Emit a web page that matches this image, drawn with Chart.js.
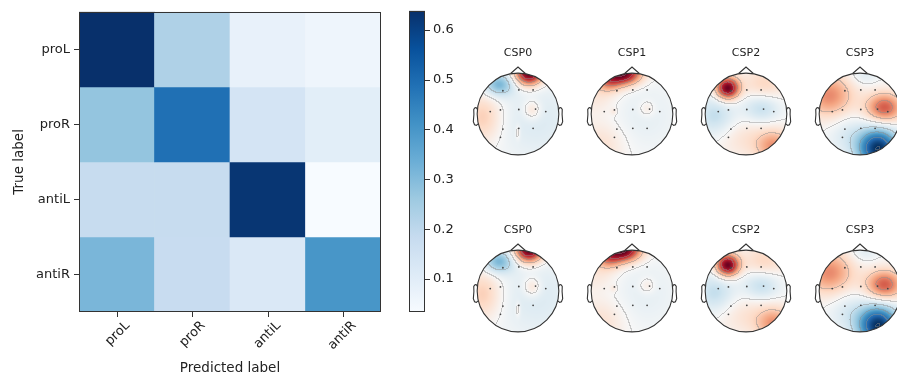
<!DOCTYPE html>
<html>
<head>
<meta charset="utf-8">
<script src="https://cdn.jsdelivr.net/npm/chart.js@4.4.1/dist/chart.umd.min.js"></script>
<style>
html, body { margin: 0; padding: 0; background: #fff; width: 897px; height: 380px; overflow: hidden; }
.box { position: absolute; }
</style>
</head>
<body>
<div class="box" style="left:0;top:0;width:400px;height:380px"><canvas id="cm"></canvas></div>
<div class="box" style="left:395px;top:0;width:70px;height:380px"><canvas id="cbar"></canvas></div>
<div id="topos"></div>
<script>
//////////////////////////////////////////////// data
const classes = ['proL', 'proR', 'antiL', 'antiR'];
const rowProL  = [0.638, 0.228, 0.079, 0.061];
const rowProR  = [0.275, 0.490, 0.141, 0.097];
const rowAntiL = [0.182, 0.182, 0.625, 0.034];
const rowAntiR = [0.314, 0.180, 0.122, 0.400];
const cmRows = [rowProL, rowProR, rowAntiL, rowAntiR];
const cbarTicks = [0.1, 0.2, 0.3, 0.4, 0.5, 0.6];

const topoTitles = ['CSP0', 'CSP1', 'CSP2', 'CSP3'];
// electrode positions (head radius = 1, y up)
const electrodeX = [-0.37, 0.02, 0.37, -0.68, -0.43, 0.02, 0.43, 0.68, -0.37, 0.02, 0.37, -0.43];
const electrodeY = [0.57, 0.59, 0.59, 0.06, 0.10, 0.11, 0.12, 0.06, -0.37, -0.35, -0.35, -0.57];
// pattern components: [x, y, amplitude, spread x, spread y]
const csp0Field = [
    [0.27, 1.0, 1.05, 0.24, 0.21],
    [-0.47, 0.72, -0.45, 0.26, 0.2],
    [-0.85, -0.08, 0.26, 0.32, 0.42],
    [0.35, 0.1, 0.22, 0.15, 0.17],
    [0.45, -0.15, -0.14, 0.7, 0.7],
    [0.0, -0.45, 0.14, 0.04, 0.12]
];
const csp1Field = [
    [-0.2, 1.0, 1.0, 0.3, 0.2],
    [-0.58, 0.8, 0.4, 0.22, 0.18],
    [-0.85, 0.45, 0.12, 0.35, 0.3],
    [-0.75, -0.75, 0.16, 0.4, 0.4],
    [0.3, -0.05, -0.09, 0.6, 0.6],
    [0.37, 0.13, 0.14, 0.14, 0.14],
    [-0.45, 0.06, 0.09, 0.06, 0.06]
];
const csp2Field = [
    [-0.45, 0.63, 1.0, 0.2, 0.19],
    [0.45, 0.72, 0.22, 0.38, 0.3],
    [0.38, 0.15, -0.26, 0.32, 0.26],
    [-0.75, -0.05, -0.25, 0.35, 0.35],
    [0.7, -0.8, 0.42, 0.3, 0.28],
    [0.0, -0.6, 0.14, 0.5, 0.35]
];
const csp3Field = [
    [-0.75, 0.45, 0.48, 0.42, 0.38],
    [0.6, 0.15, 0.62, 0.32, 0.26],
    [0.45, -0.85, -1.0, 0.35, 0.35],
    [-0.3, -0.5, -0.14, 0.35, 0.35],
    [0.1, 0.95, -0.12, 0.25, 0.18]
];
const topoFields = [csp0Field, csp1Field, csp2Field, csp3Field];

//////////////////////////////////////////////// colours
const bluesStops = ['#f7fbff', '#deebf7', '#c6dbef', '#9ecae1', '#6baed6', '#4292c6', '#2171b5', '#08519c', '#08306b'];
const rdbuStops = ['#053061', '#2166ac', '#4393c3', '#92c5de', '#d1e5f0', '#f7f7f7', '#fddbc7', '#f4a582', '#d6604d', '#b2182b', '#67001f'];

function hex(h) {
    return [parseInt(h.slice(1, 3), 16), parseInt(h.slice(3, 5), 16), parseInt(h.slice(5, 7), 16)];
}
const bluesRgb = bluesStops.map(hex);
const rdbuRgb = rdbuStops.map(hex);

function interp(stops, t) {
    t = Math.max(0, Math.min(1, t));
    const n = stops.length - 1;
    const i = Math.min(n - 1, Math.floor(t * n));
    const f = t * n - i;
    const a = stops[i], b = stops[i + 1];
    return [0, 1, 2].map(k => Math.round(a[k] + (b[k] - a[k]) * f));
}

const allVals = cmRows.flat();
const vmin = Math.min(...allVals);
const vmax = Math.max(...allVals);
const font13 = { family: 'DejaVu Sans', size: 13 };
const fontTitle = { family: 'DejaVu Sans', size: 13.5 };
const textColor = '#222';
const hidden = 'rgba(0,0,0,0)';

//////////////////////////////////////////////// frame + tick marks
const frame = {
    id: 'frame',
    afterDraw(c) {
        const a = c.chartArea, ctx = c.ctx;
        ctx.save();
        ctx.strokeStyle = '#333';
        ctx.lineWidth = 1;
        ctx.strokeRect(Math.round(a.left) + 0.5, Math.round(a.top) + 0.5, Math.round(a.width) - 1, Math.round(a.height) - 1);
        ctx.beginPath();
        Object.values(c.scales).forEach(s => {
            if (!s.options.display) return;
            s.ticks.forEach((t, i) => {
                const p = Math.round(s.getPixelForTick(i)) + 0.5;
                if (s.position === 'bottom') { ctx.moveTo(p, a.bottom); ctx.lineTo(p, a.bottom + 5); }
                if (s.position === 'left') { ctx.moveTo(a.left, p); ctx.lineTo(a.left - 5, p); }
                if (s.position === 'right') { ctx.moveTo(a.right, p); ctx.lineTo(a.right + 5, p); }
            });
        });
        ctx.stroke();
        ctx.restore();
    }
};

//////////////////////////////////////////////// confusion matrix
new Chart(document.getElementById('cm'), {
    type: 'bar',
    data: {
        labels: classes,
        datasets: cmRows.map((row, r) => ({
            label: classes[r],
            data: row.map(() => [r, r + 1]),
            backgroundColor: row.map(v => 'rgb(' + interp(bluesRgb, (v - vmin) / (vmax - vmin)).join(',') + ')'),
            borderWidth: 0,
            barPercentage: 1,
            categoryPercentage: 1
        }))
    },
    options: {
        responsive: true,
        maintainAspectRatio: false,
        animation: false,
        layout: { padding: { left: 0, right: 19, top: 10, bottom: 0 } },
        plugins: { legend: { display: false }, tooltip: { enabled: false } },
        scales: {
            x: {
                stacked: true,
                grid: { drawOnChartArea: false, tickLength: 5, color: hidden },
                border: { display: false },
                ticks: { color: textColor, font: font13, minRotation: 45, maxRotation: 45, autoSkip: false, labelOffset: 11, padding: 1 },
                title: { display: true, text: 'Predicted label', color: textColor, font: fontTitle, padding: { top: 0, bottom: 3 } },
                afterFit(a) { a.height = 68; }
            },
            y: {
                type: 'linear',
                min: 0,
                max: 4,
                reverse: true,
                stacked: false,
                afterBuildTicks(a) { a.ticks = [0.5, 1.5, 2.5, 3.5].map(v => ({ value: v })); },
                grid: { drawOnChartArea: false, tickLength: 5, color: hidden },
                border: { display: false },
                ticks: { color: textColor, font: font13, padding: 4, callback: (v, i) => classes[i] },
                title: { display: true, text: 'True label', color: textColor, font: fontTitle, padding: { top: 11, bottom: 0 } },
                afterFit(a) { a.width = 79; }
            }
        }
    },
    plugins: [frame]
});

//////////////////////////////////////////////// colorbar
new Chart(document.getElementById('cbar'), {
    type: 'bar',
    data: {
        labels: [''],
        datasets: [{
            data: [[vmin, vmax]],
            backgroundColor(ctx) {
                const c = ctx.chart, a = c.chartArea;
                if (!a) return '#fff';
                const g = c.ctx.createLinearGradient(0, a.bottom, 0, a.top);
                bluesStops.forEach((s, i) => g.addColorStop(i / (bluesStops.length - 1), s));
                return g;
            },
            borderWidth: 0,
            barPercentage: 1,
            categoryPercentage: 1
        }]
    },
    options: {
        responsive: true,
        maintainAspectRatio: false,
        animation: false,
        layout: { padding: { left: 14, right: 0, top: 10, bottom: 68 } },
        plugins: { legend: { display: false }, tooltip: { enabled: false } },
        scales: {
            x: { display: false },
            y: {
                position: 'right',
                min: vmin,
                max: vmax,
                afterBuildTicks(a) { a.ticks = cbarTicks.map(v => ({ value: v })); },
                grid: { drawOnChartArea: false, tickLength: 5, color: hidden },
                border: { display: false },
                ticks: { color: textColor, font: font13, padding: 3, callback: v => v.toFixed(1) },
                afterFit(a) { a.width = 40; }
            }
        }
    },
    plugins: [frame]
});

//////////////////////////////////////////////// topomaps
function fieldAt(blobs, u, v) {
    let f = 0;
    for (const b of blobs) {
        const dx = (u - b[0]) / b[3], dy = (v - b[1]) / b[4];
        f += b[2] * Math.exp(-0.5 * (dx * dx + dy * dy));
    }
    return f;
}

const earX = [.497, .510, .518, .5299, .5419, .54, .547, .532, .510, .489];
const earY = [.0555, .0775, .0783, .0746, .0555, -.0055, -.0932, -.1313, -.1384, -.1199];

const headPlugin = {
    id: 'head',
    beforeDatasetsDraw(c, args, opts) {
        const xs = c.scales.x, ys = c.scales.y, ctx = c.ctx;
        const cx = xs.getPixelForValue(0), cy = ys.getPixelForValue(0);
        const R = xs.getPixelForValue(1) - cx;
        const x0 = Math.floor(cx - R - 1), y0 = Math.floor(cy - R - 1), n = Math.ceil(2 * R) + 3;
        const vals = new Float32Array(n * n);
        for (let j = 0; j < n; j++) {
            for (let i = 0; i < n; i++) {
                const u = (x0 + i + 0.5 - cx) / R, v = (cy - (y0 + j + 0.5)) / R;
                vals[j * n + i] = fieldAt(opts.blobs, u, v);
            }
        }
        const step = 0.25;
        const img = ctx.createImageData(n, n);
        for (let j = 0; j < n; j++) {
            for (let i = 0; i < n; i++) {
                const u = (x0 + i + 0.5 - cx) / R, v = (cy - (y0 + j + 0.5)) / R;
                const r = Math.sqrt(u * u + v * v);
                const alpha = Math.max(0, Math.min(1, (1 - r) * R + 0.5));
                if (alpha <= 0) continue;
                const f = vals[j * n + i];
                let col = interp(rdbuRgb, (Math.max(-1, Math.min(1, f)) + 1) / 2);
                const b0 = Math.floor(f / step);
                const bR = i + 1 < n ? Math.floor(vals[j * n + i + 1] / step) : b0;
                const bD = j + 1 < n ? Math.floor(vals[(j + 1) * n + i] / step) : b0;
                if (b0 !== bR || b0 !== bD) col = col.map(k => Math.round(k * 0.55 + 140 * 0.45));
                const p = (j * n + i) * 4;
                img.data[p] = col[0]; img.data[p + 1] = col[1]; img.data[p + 2] = col[2];
                img.data[p + 3] = Math.round(alpha * 255);
            }
        }
        const off = document.createElement('canvas');
        off.width = n; off.height = n;
        off.getContext('2d').putImageData(img, 0, 0);
        ctx.save();
        ctx.drawImage(off, x0, y0);
        ctx.strokeStyle = '#333';
        ctx.lineWidth = 1.1;
        ctx.beginPath();
        ctx.arc(cx, cy, R, 0, Math.PI * 2);
        ctx.stroke();
        // nose
        ctx.beginPath();
        ctx.moveTo(cx - 0.18 * R, cy - 0.9924 * R);
        ctx.lineTo(cx, cy - 1.15 * R);
        ctx.lineTo(cx + 0.18 * R, cy - 0.9924 * R);
        ctx.stroke();
        // ears
        [1, -1].forEach(sgn => {
            ctx.beginPath();
            earX.forEach((ex, k) => {
                const px = cx + sgn * ex * 2 * R, py = cy - earY[k] * 2 * R;
                if (k === 0) ctx.moveTo(px, py); else ctx.lineTo(px, py);
            });
            ctx.stroke();
        });
        ctx.restore();
    }
};

const topoCx = [518, 632, 746, 860];
const topoCy = [114, 291];
const holder = document.getElementById('topos');
topoCy.forEach(cy => {
    topoCx.forEach((cx, k) => {
        const d = document.createElement('div');
        d.className = 'box';
        d.style.left = (cx - 57) + 'px';
        d.style.top = (cy - 70) + 'px';
        d.style.width = '114px';
        d.style.height = '130px';
        const cv = document.createElement('canvas');
        d.appendChild(cv);
        holder.appendChild(d);
        new Chart(cv, {
            type: 'scatter',
            data: {
                datasets: [{
                    data: electrodeX.map((x, i) => ({ x: x, y: electrodeY[i] })),
                    pointRadius: 0.9,
                    backgroundColor: '#444',
                    borderWidth: 0
                }]
            },
            options: {
                responsive: true,
                maintainAspectRatio: false,
                animation: false,
                layout: { padding: { left: 8, right: 8, top: 0, bottom: 11 } },
                plugins: {
                    legend: { display: false },
                    tooltip: { enabled: false },
                    title: { display: true, text: topoTitles[k], color: textColor, font: { family: 'DejaVu Sans', size: 11, weight: 'normal', lineHeight: 1 }, padding: { top: 4, bottom: 6 } },
                    head: { blobs: topoFields[k] }
                },
                scales: {
                    x: { display: false, min: -1.2, max: 1.2 },
                    y: { display: false, min: -1.2, max: 1.2 }
                }
            },
            plugins: [headPlugin]
        });
    });
});
</script>
</body>
</html>
